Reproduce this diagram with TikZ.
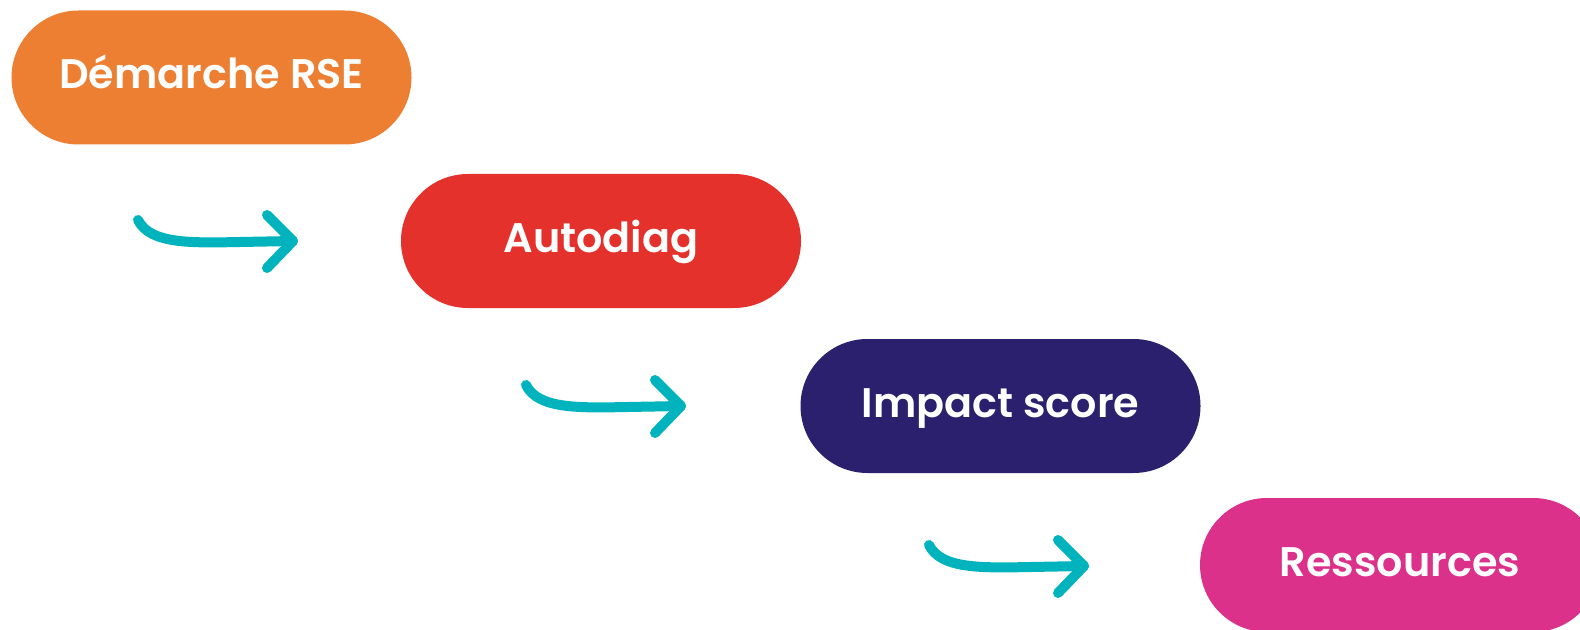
\documentclass[tikz,border=0pt]{standalone}
\usepackage{fontspec}
\setmainfont{Poppins}[UprightFont=* SemiBold]
\usetikzlibrary{shapes.misc}
\definecolor{cOrange}{HTML}{ED7F33}
\definecolor{cRed}{HTML}{E5312B}
\definecolor{cNavy}{HTML}{2B206D}
\definecolor{cPink}{HTML}{DB318A}
\definecolor{cTeal}{HTML}{00B3BC}
\begin{document}
\begin{tikzpicture}[x=1bp,y=-1bp,
  pill/.style={rounded rectangle, minimum width=400bp, minimum height=134bp, inner sep=0pt},
  lbl/.style={text=white, inner sep=0pt, anchor=base, font=\fontsize{41.5}{46}\selectfont},
  flow/.style={draw=cTeal, line width=10bp, line cap=round, line join=round}]
\useasboundingbox (0,0) rectangle (1580,630);
\node[pill, fill=cOrange] (p1) at (211.5,77.5) {};
\node[pill, fill=cRed] (p2) at (601,241) {};
\node[pill, fill=cNavy] (p3) at (1000.5,406) {};
\node[pill, fill=cPink] (p4) at (1400,565) {};
\node[lbl] (t1) at ([yshift=-11.5bp]p1.center) {Démarche RSE};
\node[lbl] (t2) at ([yshift=-11.5bp]p2.center) {Autodiag};
\node[lbl] (t3) at ([yshift=-11.5bp]p3.center) {Impact score};
\node[lbl] (t4) at ([yshift=-11.5bp]p4.center) {Ressources};
% arrows
\foreach \dx/\dy/\n in {0/0/1, 388/165/2, 791/325/3}{
  \begin{scope}[shift={(\dx,\dy)}]
    \coordinate (s\n) at (138,220);
    \coordinate (e\n) at (293,241);
    \coordinate (hu\n) at (267,215);
    \coordinate (hd\n) at (267,268);
    \draw[flow] (s\n) .. controls (150,244) and (190,243) .. (240,242) -- (e\n);
    \draw[flow] (hu\n) -- (e\n) -- (hd\n);
  \end{scope}
}
\end{tikzpicture}
\end{document}
